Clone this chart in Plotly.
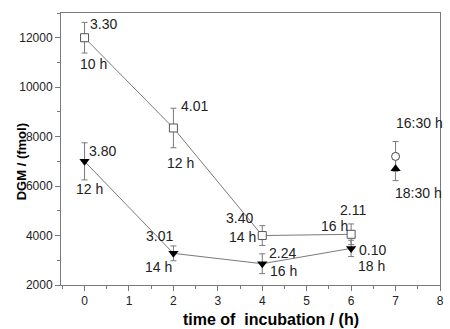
import plotly.graph_objects as go

# Data
t_sq = [0, 2, 4, 6]
dgm_sq = [12000, 8350, 4000, 4050]
err_sq = [620, 800, 400, 420]

t_tri = [0, 2, 4, 6]
dgm_tri = [7000, 3280, 2860, 3480]
err_tri = [750, 300, 400, 330]

t_circ = [7]
dgm_circ = [7200]
err_circ = [600]

t_up = [7]
dgm_up = [6700]
err_up = [480]

# value/hour labels
label_text = ["3.30", "10 h", "4.01", "12 h", "3.80", "12 h", "3.01", "14 h",
              "3.40", "14 h", "2.24", "16 h", "2.11", "16 h", "0.10", "18 h",
              "16:30 h", "18:30 h"]
label_x = [0.43, 0.20, 2.48, 2.17, 0.41, 0.11, 1.69, 1.67,
           3.49, 3.56, 4.45, 4.47, 6.05, 5.63, 6.48, 6.45, 7.54, 7.52]
label_y = [12555, 10937, 9239, 6934, 7431, 5882, 3982, 2728,
           4709, 3941, 3294, 2566, 5033, 4386, 3400, 2780, 8551, 5720]

x_ticks = [0, 1, 2, 3, 4, 5, 6, 7, 8]
y_ticks = [2000, 4000, 6000, 8000, 10000, 12000]
y_ticktext = ["2000", "4000", "6000", "8000", "10000", "12000"]

gray = "#7a7a7a"
font = "Liberation Sans, Arial, sans-serif"

fig = go.Figure()

def err(v):
    return dict(type="data", array=v, visible=True, color=gray, thickness=1, width=3)

# error bars first (beneath markers)
for xs, ys, es in [(t_sq, dgm_sq, err_sq), (t_tri, dgm_tri, err_tri),
                   (t_circ, dgm_circ, err_circ), (t_up, dgm_up, err_up)]:
    fig.add_trace(go.Scatter(x=xs, y=ys, error_y=err(es), mode="markers",
                             marker=dict(size=1, color="rgba(0,0,0,0)"), cliponaxis=False,
                             hoverinfo="skip"))

fig.add_trace(go.Scatter(x=t_sq, y=dgm_sq, mode="lines+markers",
                         line=dict(color=gray, width=1),
                         marker=dict(symbol="square", size=8, color="white",
                                     line=dict(width=1, color="#555555")),
                         cliponaxis=False))
fig.add_trace(go.Scatter(x=t_tri, y=dgm_tri, mode="lines+markers",
                         line=dict(color=gray, width=1),
                         marker=dict(symbol="triangle-down", size=9, color="black"),
                         cliponaxis=False))
fig.add_trace(go.Scatter(x=t_circ, y=dgm_circ, mode="markers",
                         marker=dict(symbol="circle", size=8, color="white",
                                     line=dict(width=1, color="#444444")),
                         cliponaxis=False))
fig.add_trace(go.Scatter(x=t_up, y=dgm_up, mode="markers",
                         marker=dict(symbol="triangle-up", size=9, color="black"),
                         cliponaxis=False))

for txt, x, y in zip(label_text, label_x, label_y):
    fig.add_annotation(x=x, y=y, text=txt, showarrow=False, xanchor="center", yanchor="middle",
                       font=dict(family=font, size=14, color="#222222"))

fig.add_annotation(xref="paper", yref="paper", x=0.555, y=-0.09, yanchor="top",
                   text="<b>time of\u00a0 incubation / (h)</b>", showarrow=False,
                   font=dict(family=font, size=16, color="black"))
fig.add_annotation(xref="paper", yref="paper", x=-0.13, y=0.452, textangle=-90,
                   text="<b>DGM / (fmol)</b>", showarrow=False,
                   font=dict(family=font, size=13, color="black"))

axis_common = dict(showgrid=False, zeroline=False, showline=True, linecolor=gray, linewidth=1,
                   mirror=True, ticks="outside", ticklen=5, tickcolor=gray, tickwidth=1,
                   tickfont=dict(family=font, size=12, color="#222222"))

fig.update_xaxes(range=[-0.53, 8], tickvals=x_ticks,
                 minor=dict(dtick=0.5, ticks="outside", ticklen=3, tickcolor=gray), **axis_common)
fig.update_yaxes(range=[2000, 13000], tickvals=y_ticks, ticktext=y_ticktext, ticklabelstandoff=0,
                 minor=dict(dtick=1000, ticks="outside", ticklen=3, tickcolor=gray), **axis_common)

fig.update_layout(width=450, height=329, margin=dict(l=61, r=6, t=13, b=44),
                  plot_bgcolor="white", paper_bgcolor="white", showlegend=False)

fig.write_html("out.html", config={"displayModeBar": False},
               post_script="document.body.style.margin='0';")
